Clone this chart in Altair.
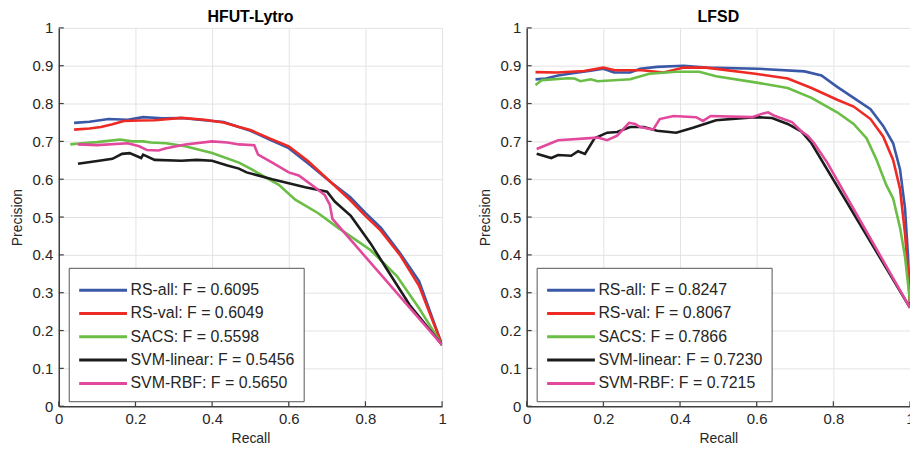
import altair as alt
import pandas as pd

COLORS = ["#3a58a8", "#ee2a24", "#6abd45", "#1c1c1c", "#e2489b"]
FONT = "Liberation Sans"

recall_ticks = [0, 0.2, 0.4, 0.6, 0.8, 1]
precision_ticks = [0, 0.1, 0.2, 0.3, 0.4, 0.5, 0.6, 0.7, 0.8, 0.9, 1]

# ---------------- HFUT-Lytro ----------------
h_names = ["RS-all: F = 0.6095", "RS-val: F = 0.6049", "SACS: F = 0.5598",
           "SVM-linear: F = 0.5456", "SVM-RBF: F = 0.5650"]
h_rsall_r = [0.04, 0.08, 0.13, 0.18, 0.22, 0.27, 0.32, 0.38, 0.43, 0.47, 0.50, 0.55, 0.60, 0.65, 0.71, 0.76, 0.80, 0.84, 0.89, 0.94, 1.0]
h_rsall_p = [0.749, 0.752, 0.759, 0.757, 0.764, 0.761, 0.762, 0.756, 0.751, 0.738, 0.728, 0.705, 0.682, 0.642, 0.592, 0.553, 0.511, 0.472, 0.405, 0.331, 0.162]
h_rsval_r = [0.04, 0.08, 0.11, 0.14, 0.17, 0.21, 0.25, 0.32, 0.38, 0.43, 0.47, 0.50, 0.55, 0.60, 0.65, 0.71, 0.76, 0.80, 0.84, 0.89, 0.94, 1.0]
h_rsval_p = [0.731, 0.734, 0.738, 0.745, 0.754, 0.755, 0.756, 0.762, 0.757, 0.750, 0.738, 0.730, 0.708, 0.687, 0.648, 0.592, 0.545, 0.503, 0.464, 0.400, 0.318, 0.162]
h_sacs_r = [0.03, 0.06, 0.10, 0.16, 0.19, 0.22, 0.24, 0.28, 0.33, 0.40, 0.47, 0.50, 0.574, 0.617, 0.677, 0.728, 0.77, 0.813, 0.882, 0.94, 1.0]
h_sacs_p = [0.692, 0.695, 0.698, 0.705, 0.700, 0.700, 0.697, 0.695, 0.687, 0.669, 0.644, 0.628, 0.585, 0.546, 0.510, 0.472, 0.443, 0.413, 0.344, 0.259, 0.162]
h_lin_r = [0.05, 0.105, 0.14, 0.165, 0.185, 0.215, 0.22, 0.25, 0.32, 0.36, 0.40, 0.44, 0.47, 0.49, 0.557, 0.643, 0.70, 0.72, 0.762, 0.813, 0.856, 0.916, 1.0]
h_lin_p = [0.641, 0.649, 0.654, 0.667, 0.669, 0.656, 0.665, 0.651, 0.649, 0.651, 0.649, 0.636, 0.628, 0.618, 0.600, 0.579, 0.567, 0.541, 0.503, 0.431, 0.362, 0.267, 0.162]
h_rbf_r = [0.05, 0.10, 0.18, 0.21, 0.23, 0.26, 0.28, 0.33, 0.40, 0.44, 0.47, 0.51, 0.52, 0.557, 0.60, 0.626, 0.668, 0.694, 0.707, 0.714, 1.0]
h_rbf_p = [0.692, 0.690, 0.695, 0.687, 0.677, 0.676, 0.682, 0.692, 0.700, 0.697, 0.692, 0.690, 0.665, 0.644, 0.618, 0.610, 0.579, 0.558, 0.533, 0.495, 0.162]

# ---------------- LFSD ----------------
l_names = ["RS-all: F = 0.8247", "RS-val: F = 0.8067", "SACS: F = 0.7866",
           "SVM-linear: F = 0.7230", "SVM-RBF: F = 0.7215"]
l_rsall_r = [0.023, 0.05, 0.082, 0.12, 0.167, 0.20, 0.228, 0.27, 0.296, 0.34, 0.41, 0.468, 0.604, 0.725, 0.769, 0.81, 0.853, 0.897, 0.93, 0.956, 0.974, 0.987, 0.995, 1.0]
l_rsall_p = [0.864, 0.866, 0.874, 0.880, 0.887, 0.892, 0.882, 0.882, 0.892, 0.897, 0.900, 0.895, 0.892, 0.885, 0.874, 0.844, 0.815, 0.785, 0.741, 0.695, 0.626, 0.523, 0.395, 0.267]
l_rsval_r = [0.023, 0.08, 0.15, 0.20, 0.23, 0.30, 0.357, 0.41, 0.468, 0.596, 0.681, 0.743, 0.81, 0.853, 0.897, 0.93, 0.956, 0.974, 0.987, 0.995, 1.0]
l_rsval_p = [0.883, 0.882, 0.886, 0.895, 0.888, 0.888, 0.882, 0.895, 0.895, 0.879, 0.866, 0.841, 0.810, 0.792, 0.759, 0.713, 0.651, 0.574, 0.456, 0.354, 0.267]
l_sacs_r = [0.023, 0.04, 0.108, 0.125, 0.14, 0.167, 0.185, 0.27, 0.32, 0.39, 0.45, 0.494, 0.596, 0.681, 0.743, 0.81, 0.853, 0.887, 0.913, 0.938, 0.956, 0.974, 0.987, 1.0]
l_sacs_p = [0.849, 0.862, 0.867, 0.866, 0.859, 0.864, 0.859, 0.864, 0.879, 0.884, 0.884, 0.872, 0.856, 0.841, 0.815, 0.777, 0.746, 0.708, 0.651, 0.585, 0.549, 0.472, 0.395, 0.277]
l_lin_r = [0.026, 0.064, 0.082, 0.116, 0.134, 0.152, 0.177, 0.21, 0.236, 0.27, 0.306, 0.34, 0.39, 0.434, 0.494, 0.596, 0.64, 0.681, 0.717, 0.743, 1.0]
l_lin_p = [0.667, 0.656, 0.664, 0.662, 0.674, 0.667, 0.708, 0.723, 0.725, 0.738, 0.738, 0.728, 0.723, 0.736, 0.756, 0.764, 0.762, 0.746, 0.726, 0.695, 0.260]
l_rbf_r = [0.026, 0.082, 0.185, 0.21, 0.236, 0.267, 0.283, 0.296, 0.33, 0.347, 0.383, 0.442, 0.46, 0.48, 0.588, 0.617, 0.63, 0.648, 0.692, 0.717, 0.733, 0.75, 0.784, 1.0]
l_rbf_p = [0.680, 0.703, 0.710, 0.703, 0.715, 0.749, 0.746, 0.738, 0.731, 0.759, 0.767, 0.764, 0.754, 0.767, 0.764, 0.774, 0.777, 0.767, 0.751, 0.726, 0.715, 0.695, 0.644, 0.260]

W, H = 385, 380


def build_df(names, series):
    rows = []
    for name, (rs, ps) in zip(names, series):
        for i, (r, p) in enumerate(zip(rs, ps)):
            rows.append({"series": name, "recall": r, "precision": p, "idx": i})
    return pd.DataFrame(rows)


def panel(title, names, series):
    df = build_df(names, series)
    xscale = alt.Scale(domain=[0, 1], nice=False)
    yscale = alt.Scale(domain=[0, 1], nice=False)
    xaxis = alt.Axis(values=recall_ticks, format="~g", title="Recall",
                     labelPadding=5, titlePadding=5, labelFlush=False)
    yaxis = alt.Axis(values=precision_ticks, format="~g", title="Precision",
                     labelPadding=6, titlePadding=8)
    lines = alt.Chart(df).mark_line(strokeWidth=2.6, clip=True).encode(
        x=alt.X("recall:Q", scale=xscale, axis=xaxis),
        y=alt.Y("precision:Q", scale=yscale, axis=yaxis),
        color=alt.Color(
            "series:N",
            sort=names,
            scale=alt.Scale(domain=names, range=COLORS),
            legend=alt.Legend(
                title=None, orient="none", legendX=10, legendY=241,
                strokeColor="#555555", fillColor="white", padding=9,
                symbolType="M-1,0H3", symbolSize=576, symbolStrokeWidth=3,
                labelFont=FONT, labelFontSize=16, labelColor="#262626",
                labelOffset=26, labelLimit=0, rowPadding=1.4,
            ),
        ),
        order="idx:Q",
    )
    xt = alt.Chart(pd.DataFrame({"recall": recall_ticks})).mark_rule(
        color="#404040", strokeWidth=1.2).encode(
        x=alt.X("recall:Q", scale=xscale, axis=xaxis),
        y=alt.value(H), y2=alt.value(H - 5))
    yt = alt.Chart(pd.DataFrame({"precision": precision_ticks})).mark_rule(
        color="#404040", strokeWidth=1.2).encode(
        y=alt.Y("precision:Q", scale=yscale, axis=yaxis),
        x=alt.value(0), x2=alt.value(5))
    return alt.layer(lines, xt, yt).properties(
        width=W, height=H,
        title=alt.TitleParams(title, font=FONT, fontSize=16, fontWeight="bold",
                              color="#000000", offset=-4),
    )


left = panel("HFUT-Lytro", h_names, [
    (h_rsall_r, h_rsall_p), (h_rsval_r, h_rsval_p), (h_sacs_r, h_sacs_p),
    (h_lin_r, h_lin_p), (h_rbf_r, h_rbf_p)])
right = panel("LFSD", l_names, [
    (l_rsall_r, l_rsall_p), (l_rsval_r, l_rsval_p), (l_sacs_r, l_sacs_p),
    (l_lin_r, l_lin_p), (l_rbf_r, l_rbf_p)])

chart = alt.hconcat(left, right, spacing=85, bounds="flush").resolve_scale(
    color="independent").resolve_legend(color="independent").properties(
    padding={"left": 2, "top": 0, "right": -5, "bottom": 0},
    background="white",
).configure_view(stroke=None).configure_axis(
    grid=True, gridColor="#e3e3e3", gridWidth=1,
    domainColor="#404040", domainWidth=1.5, ticks=False,
    labelFont=FONT, labelFontSize=15, labelColor="#262626", labelOverlap=False,
    titleFont=FONT, titleFontSize=14, titleFontWeight="normal", titleColor="#262626",
)

chart.save("out.html", embed_options={"renderer": "svg", "actions": False})
